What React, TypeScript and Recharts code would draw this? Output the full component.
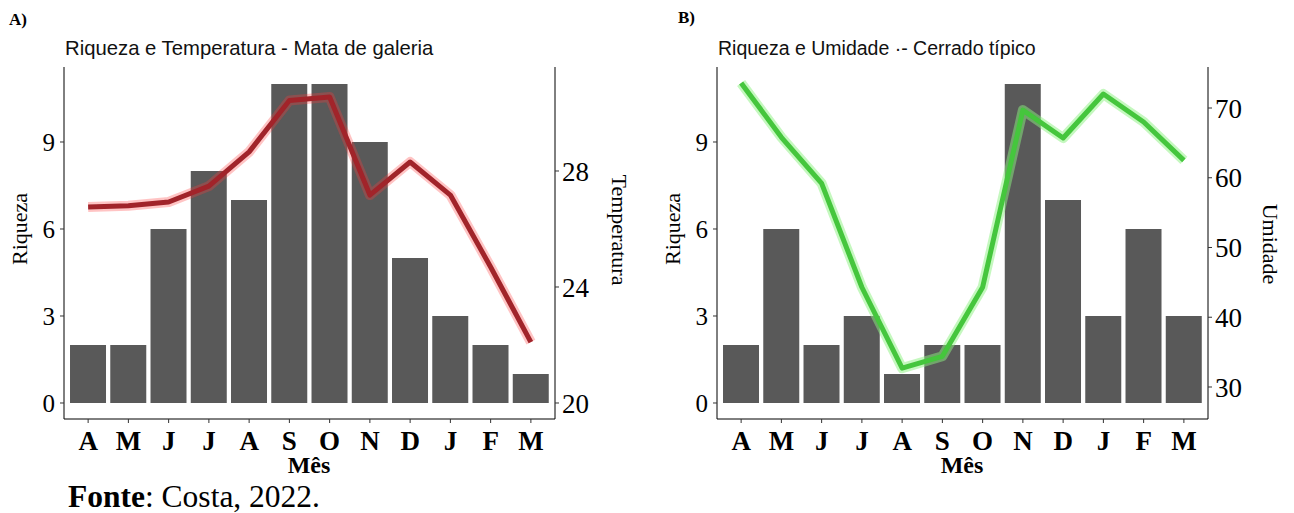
import { ComposedChart, Bar, Line, XAxis, YAxis } from 'recharts'

const meses = ['A', 'M', 'J', 'J', 'A', 'S', 'O', 'N', 'D', 'J', 'F', 'M']
const riquezaMata = [2, 2, 6, 8, 7, 11, 11, 9, 5, 3, 2, 1]
const temperaturaMata = [26.76, 26.8, 26.93, 27.48, 28.66, 30.43, 30.55, 27.17, 28.31, 27.17, 24.69, 22.1]
const riquezaCerrado = [2, 6, 2, 3, 1, 2, 2, 11, 7, 3, 6, 3]
const umidadeCerrado = [73.6, 65.8, 59.2, 44.3, 32.7, 34.4, 44.3, 69.7, 65.7, 72.0, 68.0, 62.5]

const riquezaTicks = [0, 3, 6, 9]
const temperaturaTicks = [20, 24, 28]
const umidadeTicks = [30, 40, 50, 60, 70]

const SERIF = '"Liberation Serif", "Times New Roman", serif'
const SANS = '"Liberation Sans", Arial, sans-serif'
const BAR = '#595959'

const dataMata = meses.map((mes, i) => ({ i, mes, riqueza: riquezaMata[i], clima: temperaturaMata[i] }))
const dataCerrado = meses.map((mes, i) => ({ i, mes, riqueza: riquezaCerrado[i], clima: umidadeCerrado[i] }))

// axis title at a fixed spot; prop names chosen so recharts' cloned label props don't clash
function AxisTitle(props: { tx: number; ty: number; rot?: number; caption: string; fs: number; heavy?: boolean }) {
  const { tx, ty, rot = 0, caption, fs, heavy } = props
  return (
    <text
      x={tx}
      y={ty}
      transform={rot ? `rotate(${rot} ${tx} ${ty})` : undefined}
      textAnchor="middle"
      dominantBaseline={rot ? 'central' : 'alphabetic'}
      fontFamily={SERIF}
      fontSize={fs}
      fontWeight={heavy ? 'bold' : 'normal'}
      fill="#000"
    >
      {caption}
    </text>
  )
}

interface PainelProps {
  data: typeof dataMata
  width: number
  marginRight: number
  rightDomain: [number, number]
  rightTicks: number[]
  rightTitle: string
  rightTitleX: number
  rightTitleY: number
  lineColor: string
  glowColor: string
  glowOpacity: number
}

function Painel(p: PainelProps) {
  return (
    <ComposedChart
      width={p.width}
      height={513}
      data={p.data}
      margin={{ top: 67, right: p.marginRight, bottom: 54, left: 0 }}
      barCategoryGap="5%"
    >
      <XAxis
        dataKey="i"
        type="category"
        tickFormatter={(v: number) => meses[v]}
        padding={{ left: 4, right: 4 }}
        height={40}
        tickSize={4}
        tickMargin={8}
        interval={0}
        axisLine={{ stroke: '#000', strokeWidth: 1 }}
        tickLine={{ stroke: '#333' }}
        tick={{ fontFamily: SERIF, fontSize: 27, fontWeight: 'bold', fill: '#000' }}
        label={<AxisTitle tx={309} ty={473} caption="Mês" fs={24} heavy />}
      />
      <YAxis
        yAxisId="left"
        width={64}
        domain={[-0.552, 11.586]}
        ticks={riquezaTicks}
        allowDataOverflow
        tickSize={4}
        tickMargin={5}
        axisLine={{ stroke: '#000', strokeWidth: 1 }}
        tickLine={{ stroke: '#333' }}
        tick={{ fontFamily: SERIF, fontSize: 25, fill: '#000' }}
        label={<AxisTitle tx={19} ty={229} rot={-90} caption="Riqueza" fs={22} />}
      />
      <YAxis
        yAxisId="right"
        orientation="right"
        width={60}
        domain={p.rightDomain}
        ticks={p.rightTicks}
        allowDataOverflow
        tickSize={4}
        tickMargin={3}
        axisLine={{ stroke: '#000', strokeWidth: 1 }}
        tickLine={{ stroke: '#333' }}
        tick={{ fontFamily: SERIF, fontSize: 27, fill: '#000' }}
        label={<AxisTitle tx={p.rightTitleX} ty={p.rightTitleY} rot={90} caption={p.rightTitle} fs={22} />}
      />
      <Bar yAxisId="left" dataKey="riqueza" fill={BAR} isAnimationActive={false} />
      <Line
        yAxisId="right"
        dataKey="clima"
        type="linear"
        stroke={p.glowColor}
        strokeOpacity={p.glowOpacity}
        strokeWidth={10}
        strokeLinejoin="round"
        dot={false}
        activeDot={false}
        isAnimationActive={false}
      />
      <Line
        yAxisId="right"
        dataKey="clima"
        type="linear"
        stroke={p.lineColor}
        strokeWidth={5}
        strokeLinejoin="round"
        dot={false}
        activeDot={false}
        isAnimationActive={false}
      />
    </ComposedChart>
  )
}

export default function App() {
  return (
    <div style={{ position: 'absolute', left: 0, top: 0, width: 1294, height: 513, background: '#fff', overflow: 'hidden' }}>
      <div style={{ position: 'absolute', left: 0, top: 0 }}>
        <Painel
          data={dataMata}
          width={650}
          marginRight={35}
          rightDomain={[19.448, 31.586]}
          rightTicks={temperaturaTicks}
          rightTitle="Temperatura"
          rightTitleX={619}
          rightTitleY={230}
          lineColor="#a1242a"
          glowColor="#ff3b3b"
          glowOpacity={0.3}
        />
      </div>
      <div style={{ position: 'absolute', left: 653, top: 0 }}>
        <Painel
          data={dataCerrado}
          width={641}
          marginRight={26}
          rightDomain={[25.41, 75.88]}
          rightTicks={umidadeTicks}
          rightTitle="Umidade"
          rightTitleX={617}
          rightTitleY={244}
          lineColor="#45c63d"
          glowColor="#8cf27f"
          glowOpacity={0.5}
        />
      </div>
      <svg width={1294} height={513} style={{ position: 'absolute', left: 0, top: 0, pointerEvents: 'none' }}>
        <text x={9} y={25} fontFamily={SERIF} fontSize={17} fontWeight="bold">A)</text>
        <text x={678} y={23} fontFamily={SERIF} fontSize={17} fontWeight="bold">B)</text>
        <text x={65} y={55} fontFamily={SANS} fontSize={20.3} fill="#111">Riqueza e Temperatura - Mata de galeria</text>
        <text x={718} y={55} fontFamily={SANS} fontSize={19.5} fill="#111">Riqueza e Umidade ·- Cerrado típico</text>
        <text x={68} y={507} fontFamily={SERIF} fontSize={31.5} fill="#000">
          <tspan fontWeight="bold">Fonte</tspan>: Costa, 2022.
        </text>
      </svg>
    </div>
  )
}
